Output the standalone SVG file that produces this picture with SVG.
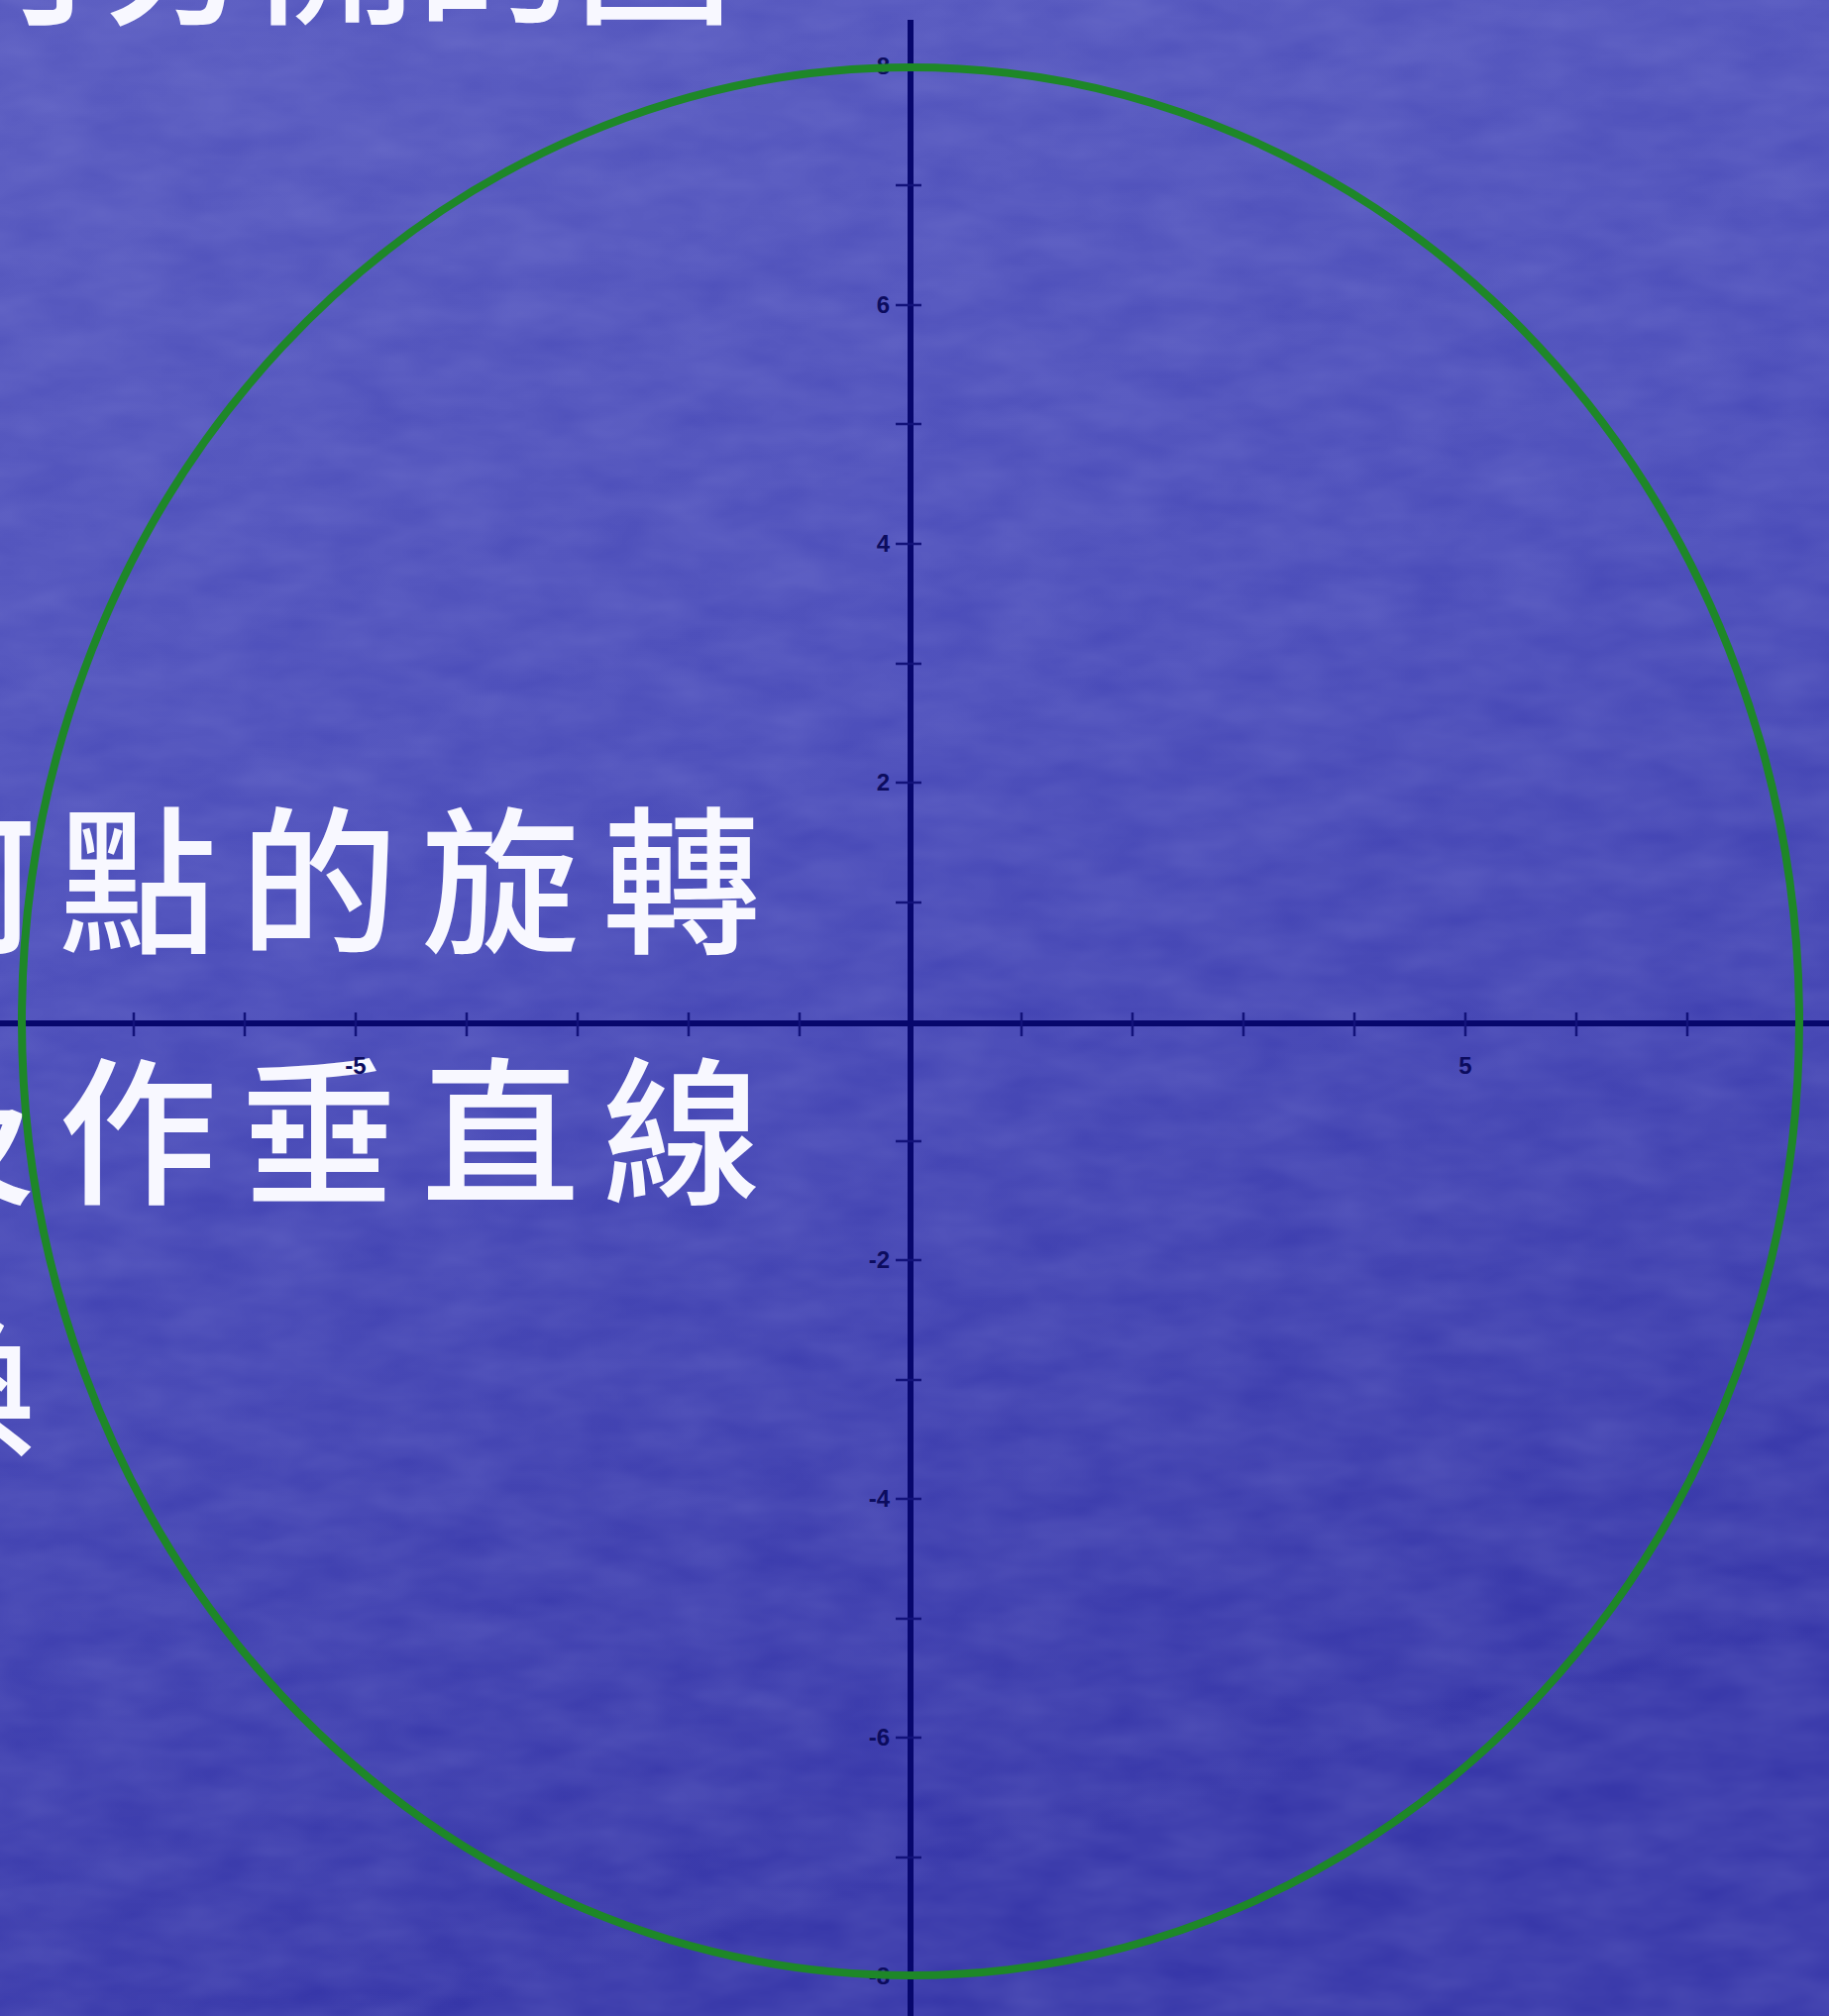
<svg xmlns="http://www.w3.org/2000/svg" width="1846" height="2035" viewBox="0 0 1846 2035">
  <defs>
    <linearGradient id="bg" x1="0" y1="0" x2="0.25" y2="1">
      <stop offset="0" stop-color="#5658be"/>
      <stop offset="0.45" stop-color="#4a4cb9"/>
      <stop offset="1" stop-color="#3636a8"/>
    </linearGradient>
    <filter id="tex" x="0" y="0" width="1" height="1">
      <feTurbulence type="fractalNoise" baseFrequency="0.012 0.03" numOctaves="3" seed="7" result="n"/>
      <feColorMatrix in="n" type="matrix" values="0 0 0 0 0.55  0 0 0 0 0.56  0 0 0 0 0.95  0 0 0 0.18 -0.02"/>
    </filter>
    <style>
      .axis { stroke: #07076c; stroke-width: 6; fill: none; }
      .tick { stroke: #12127a; stroke-width: 2.5; fill: none; }
      .lbl { font-family: "Liberation Sans", Arial, sans-serif; font-size: 24px; font-weight: bold; fill: #0c0c5e; }
      .big { font-family: "Noto Sans CJK TC", "Noto Sans CJK SC", sans-serif; font-size: 160px; font-weight: 500; fill: #f8f8ff; letter-spacing: 23px; }
      .title { font-family: "Noto Sans CJK TC", "Noto Sans CJK SC", sans-serif; font-size: 160px; font-weight: 500; fill: #f8f8ff; }
    </style>
  </defs>

  <g id="background">
    <rect x="0" y="0" width="1846" height="2035" fill="url(#bg)"/>
    <rect x="0" y="0" width="1846" height="2035" filter="url(#tex)"/>
  </g>

  <g id="title">
    <text class="title" x="-60" y="12">可分開的圖</text>
  </g>

  <g id="bullet-text">
    <text class="big" x="-124" y="950">何點的旋轉</text>
    <text class="big" x="-124" y="1203">及作垂直線</text>
    <text class="big" x="-124" y="1456">換</text>
  </g>

  <g id="axes">
    <line class="axis" x1="0" y1="1033" x2="1846" y2="1033"/>
    <line class="axis" x1="919" y1="20" x2="919" y2="2035"/>
  </g>

  <g id="ticks">
    <line class="tick" x1="23" y1="1022" x2="23" y2="1046"/>
    <line class="tick" x1="135" y1="1022" x2="135" y2="1046"/>
    <line class="tick" x1="247" y1="1022" x2="247" y2="1046"/>
    <line class="tick" x1="359" y1="1022" x2="359" y2="1046"/>
    <line class="tick" x1="471" y1="1022" x2="471" y2="1046"/>
    <line class="tick" x1="583" y1="1022" x2="583" y2="1046"/>
    <line class="tick" x1="695" y1="1022" x2="695" y2="1046"/>
    <line class="tick" x1="807" y1="1022" x2="807" y2="1046"/>
    <line class="tick" x1="1031" y1="1022" x2="1031" y2="1046"/>
    <line class="tick" x1="1143" y1="1022" x2="1143" y2="1046"/>
    <line class="tick" x1="1255" y1="1022" x2="1255" y2="1046"/>
    <line class="tick" x1="1367" y1="1022" x2="1367" y2="1046"/>
    <line class="tick" x1="1479" y1="1022" x2="1479" y2="1046"/>
    <line class="tick" x1="1591" y1="1022" x2="1591" y2="1046"/>
    <line class="tick" x1="1703" y1="1022" x2="1703" y2="1046"/>
    <line class="tick" x1="1815" y1="1022" x2="1815" y2="1046"/>

    <line class="tick" x1="904" y1="67" x2="930" y2="67"/>
    <line class="tick" x1="904" y1="187" x2="930" y2="187"/>
    <line class="tick" x1="904" y1="308" x2="930" y2="308"/>
    <line class="tick" x1="904" y1="428" x2="930" y2="428"/>
    <line class="tick" x1="904" y1="549" x2="930" y2="549"/>
    <line class="tick" x1="904" y1="670" x2="930" y2="670"/>
    <line class="tick" x1="904" y1="790" x2="930" y2="790"/>
    <line class="tick" x1="904" y1="911" x2="930" y2="911"/>
    <line class="tick" x1="904" y1="1152" x2="930" y2="1152"/>
    <line class="tick" x1="904" y1="1272" x2="930" y2="1272"/>
    <line class="tick" x1="904" y1="1393" x2="930" y2="1393"/>
    <line class="tick" x1="904" y1="1513" x2="930" y2="1513"/>
    <line class="tick" x1="904" y1="1634" x2="930" y2="1634"/>
    <line class="tick" x1="904" y1="1754" x2="930" y2="1754"/>
    <line class="tick" x1="904" y1="1875" x2="930" y2="1875"/>
    <line class="tick" x1="904" y1="1995" x2="930" y2="1995"/>
  </g>

  <g id="tick-labels">
    <text class="lbl" x="359" y="1084" text-anchor="middle">-5</text>
    <text class="lbl" x="1479" y="1084" text-anchor="middle">5</text>
    <text class="lbl" x="898" y="75" text-anchor="end">8</text>
    <text class="lbl" x="898" y="316" text-anchor="end">6</text>
    <text class="lbl" x="898" y="557" text-anchor="end">4</text>
    <text class="lbl" x="898" y="798" text-anchor="end">2</text>
    <text class="lbl" x="898" y="1280" text-anchor="end">-2</text>
    <text class="lbl" x="898" y="1521" text-anchor="end">-4</text>
    <text class="lbl" x="898" y="1762" text-anchor="end">-6</text>
    <text class="lbl" x="898" y="2003" text-anchor="end">-8</text>
  </g>

  <g id="circle">
    <ellipse cx="919" cy="1031" rx="897" ry="963" fill="none" stroke="#1e8728" stroke-width="8"/>
  </g>
</svg>
